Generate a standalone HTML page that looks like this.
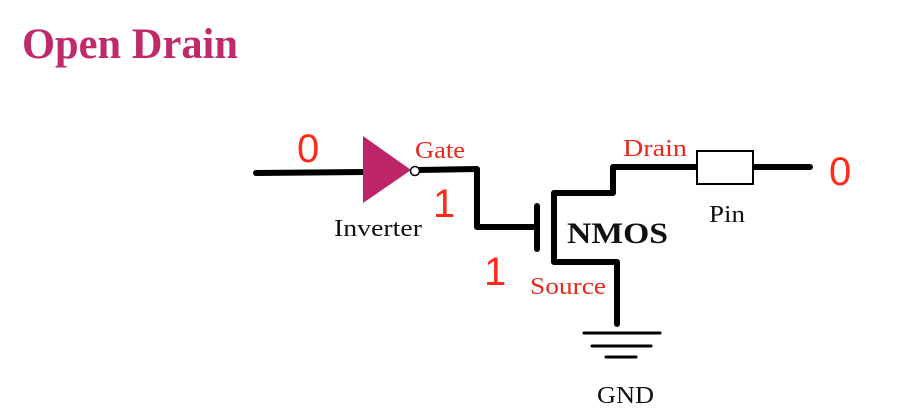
<!DOCTYPE html>
<html><head><meta charset="utf-8"><style>
body{margin:0;width:906px;height:417px;background:#fff;overflow:hidden}
svg{display:block}
</style></head><body>
<svg width="906" height="417" viewBox="0 0 906 417" xmlns="http://www.w3.org/2000/svg">
<text x="22" y="58" font-family="Liberation Serif, serif" font-weight="bold" font-size="43" fill="#c0296a" textLength="216" lengthAdjust="spacingAndGlyphs">Open Drain</text>
<g stroke="#000" stroke-width="6" fill="none" stroke-linecap="round" stroke-linejoin="round">
<line x1="256" y1="173" x2="365" y2="172"/>
<polyline points="419,170 477,169 477,227 533,227"/>
<line x1="537" y1="206" x2="537" y2="249"/>
<polyline points="695,167 613,167 613,193 554,193 554,262 617,262 617,324"/>
<line x1="753" y1="167" x2="810" y2="167"/>
<line x1="584" y1="333" x2="660" y2="333" stroke-width="3"/>
<line x1="592" y1="346" x2="651" y2="346" stroke-width="3"/>
<line x1="606" y1="357" x2="636" y2="357" stroke-width="3"/>
</g>
<polygon points="363,136 363,203 411,170" fill="#be2568"/>
<circle cx="415" cy="171" r="4.5" fill="#fff" stroke="#000" stroke-width="1.5"/>
<rect x="697" y="151" width="56" height="33" fill="#fff" stroke="#000" stroke-width="2"/>
<g font-family="Liberation Sans, sans-serif" fill="#ff2a1a" font-size="40">
<text x="297" y="162">0</text>
<text x="829" y="185">0</text>
<text x="433" y="217">1</text>
<text x="484" y="285">1</text>
</g>
<g font-family="Liberation Serif, serif" font-size="24" fill="#e8281c">
<text x="415" y="158" textLength="50" lengthAdjust="spacingAndGlyphs">Gate</text>
<text x="623" y="156" textLength="64" lengthAdjust="spacingAndGlyphs">Drain</text>
<text x="530" y="294" textLength="76" lengthAdjust="spacingAndGlyphs">Source</text>
</g>
<g font-family="Liberation Serif, serif" font-size="24" fill="#111">
<text x="334" y="236" textLength="88" lengthAdjust="spacingAndGlyphs">Inverter</text>
<text x="709" y="222" textLength="36" lengthAdjust="spacingAndGlyphs">Pin</text>
<text x="597" y="403" textLength="57" lengthAdjust="spacingAndGlyphs">GND</text>
<text x="567" y="243" font-weight="bold" font-size="30" textLength="101" lengthAdjust="spacingAndGlyphs">NMOS</text>
</g>
</svg>
</body></html>
